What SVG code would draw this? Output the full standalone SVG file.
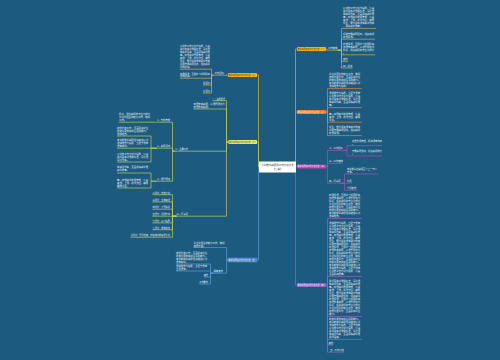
<svg xmlns="http://www.w3.org/2000/svg" width="500" height="360" viewBox="0 0 500 360">
<style>
text{font-family:"Noto Sans CJK SC","Noto Sans",sans-serif}
.t{font-size:2.4px;fill:#e6eef3}
.s{font-size:2.3px;fill:#e6eef3}
.e{text-anchor:end}
.nt{font-size:2px;text-anchor:middle}
.w{fill:#fff}
.d{fill:#3a2c00}
.c path{fill:none;stroke-width:.7;stroke-linejoin:round}
.cy{stroke:#c9b24a}.co{stroke:#e8843a}.cm{stroke:#b84ab0}.cp{stroke:#9068c8}.cg{stroke:#d9b23a}.cl{stroke:#b8cf62}.cb{stroke:#5b9ad8}
</style>
<rect width="500" height="360" fill="#1d5a7f"/>
<g id="connectors" class="c">
<path class="cy" d="M293,167 H295.5 V49 H297"/>
<path class="co" d="M293,167 H295.5 V112 H297"/>
<path class="cm" d="M293,166.5 H297"/>
<path class="cp" d="M293,167 H295.5 V285 H297"/>
<path class="cg" d="M261,167 H258.5 V75 H257"/>
<path class="cl" d="M261,167 H258.5 V142 H257"/>
<path class="cb" d="M261,167 H258.5 V260 H257"/>
<path class="cy" d="M326,49 H327 V50.2 H337.5"/>
<path class="cy" d="M337.5,50.2 H341.5 V28.4 H376 M337.5,50.2 H341.5 V39.2 H375 M337.5,50.2 H341.5 V54.8 H375 M337.5,50.2 H341.5 V61.4 H348 M337.5,50.2 H341.5 V68 H352.6"/>
<path class="co" d="M326,112 H327.5 V88.6 H362 M326,112 H327.5 V107.6 H362 M326,112 H327.5 V122.2 H362 M326,112 H327.5 V135.6 H362"/>
<path class="cm" d="M326,166.5 H327.5 V150.4 H343 M343,150.4 H347 V145.6 H382 M343,150.4 H347 V156 H382 M326,166.5 H327.5 V163.4 H343 M326,166.5 H327.5 V183.2 H341 M341,183.2 H344.5 V174 H378 M341,183.2 H352 M341,183.2 H344.5 V190.2 H357"/>
<path class="cp" d="M326,285 H327.5 V218.4 H362 M326,285 H327.5 V276.4 H362 M326,285 H327.5 V316.4 H362 M326,285 H327.5 V339.4 H362 M326,285 H327.5 V345 H333 M326,285 H327.5 V352.2 H343.8"/>
<path class="cg" d="M228,75.2 H213 M213,75.2 H211.5 V69.2 H180 M213,75.2 H211.5 V78.2 H180 M213,75.2 H211.5 V85 H203 M213,75.2 H211.5 V93 H203"/>
<path class="cl" d="M229,142 H226.5 V100.7 H212.4 M229,142 H226.5 V109 H193.5 M229,142 H226.5 V151.2 H174.8 M229,142 H226.5 V216.2 H176.5"/>
<path class="cl" d="M174.8,151.2 H172.5 V122.2 H157 M157,122.2 H119 M174.8,151.2 H172.5 V148.2 H157 M174.8,151.2 H172.5 V181.2 H157 M157,148.2 H151 V136 H117 M157,148.2 H117 M157,148.2 H151 V162 H117 M157,181.2 H151 V173 H117 M157,181.2 H151 V188 H117"/>
<path class="cl" d="M176.5,216.2 H172.5 V194.7 H152.4 M176.5,216.2 H172.5 V201.9 H152.4 M176.5,216.2 H172.5 V209.2 H152.4 M176.5,216.2 H152.4 M176.5,216.2 H172.5 V222.9 H152.4 M176.5,216.2 H172.5 V229.7 H152.4 M176.5,216.2 H172.5 V237.2 H130.4"/>
<path class="cb" d="M228,260 H226.5 V247.5 H193.5 M228,260 H226.5 V273.2 H213.4 M213.4,273.2 H210.5 V264 H176 M213.4,273.2 H210.5 V271 H176 M213.4,273.2 H210.5 V277 H203.6 M213.4,273.2 H210.5 V284 H199.2"/>
</g>
<g id="center"><rect x="259" y="161.5" width="37" height="11" rx=".6" fill="#fff"/>
<text x="277.5" y="165.8" font-size="2.5" text-anchor="middle" fill="#333">小学数学教研组工作计划范文</text>
<text x="277.5" y="169.7" font-size="2.5" text-anchor="middle" fill="#333">【七篇】</text></g>
<g id="n1"><rect x="297" y="47" width="29" height="4" rx=".4" fill="#f2b418"/><text class="nt d" x="311.5" y="49.75">数学教研组工作计划范文（一）</text></g>
<g id="n2"><rect x="297" y="110" width="29" height="4" rx=".4" fill="#ef7a2a"/><text class="nt w" x="311.5" y="112.75">数学教研组工作计划范文（二）</text></g>
<g id="n3"><rect x="297" y="164.5" width="29" height="4" rx=".4" fill="#c441b4"/><text class="nt w" x="311.5" y="167.25">数学教研组工作计划范文（三）</text></g>
<g id="n4"><rect x="297" y="283" width="29" height="4" rx=".4" fill="#8e62c8"/><text class="nt w" x="311.5" y="285.75">数学教研组工作计划范文（四）</text></g>
<g id="n5"><rect x="228" y="73" width="29" height="4" rx=".4" fill="#f2b418"/><text class="nt d" x="242.5" y="75.75">数学教研组工作计划范文（七）</text></g>
<g id="n6"><rect x="228.5" y="140" width="28.5" height="4" rx=".4" fill="#e4ee6c"/><text class="nt" fill="#333" x="242.75" y="142.75">数学教研组工作计划范文（六）</text></g>
<g id="n7"><rect x="228" y="258" width="29" height="4" rx=".4" fill="#3d7fc6" stroke="#9cc8f0" stroke-width=".3"/><text class="nt w" x="242.5" y="260.75">数学教研组工作计划范文（五）</text></g>
<g id="r1"><text class="s" x="328" y="49.4">工作措施</text></g>
<g id="r1a"><text class="t"><tspan x="343" y="9.2">以学校工作计划为指导，认真</tspan><tspan x="343" y="12.2">贯彻落实新课程标准，深化课</tspan><tspan x="343" y="15.2">堂教学改革，全面提高教学质</tspan><tspan x="343" y="18.2">量。加强教学常规管理，认真</tspan><tspan x="343" y="21.2">备课、上课、批改作业、辅导</tspan><tspan x="343" y="24.2">学生，努力提高课堂教学效率</tspan><tspan x="343" y="27.2">，提高教学质量。</tspan></text></g>
<g id="r1b"><text class="t"><tspan x="343" y="35.2">积极开展教研活动，组织教师</tspan><tspan x="343" y="38.2">听课评课。</tspan></text></g>
<g id="r1c"><text class="t"><tspan x="343" y="45.2">听课评课，互相学习共同提高</tspan><tspan x="343" y="48.1">加强校本教研，以课题研究为</tspan><tspan x="343" y="51">抓手，促进教师的专业化成长</tspan><tspan x="343" y="53.9">。</tspan></text></g>
<g id="r1d"><text class="s" x="343" y="60.4">其他</text></g>
<g id="r1e"><text class="s" x="343" y="67">四、总结</text></g>
<g id="r2a"><text class="t"><tspan x="329" y="75.2">关注学困生的转化工作，做好</tspan><tspan x="329" y="78.2">培优补差工作，全面提高学生</tspan><tspan x="329" y="81.2">的数学素养和综合运用能力。</tspan><tspan x="329" y="84.2">本学期数学教研组将继续以新</tspan><tspan x="329" y="87.2">课程理念为指导。</tspan></text></g>
<g id="r2b"><text class="t"><tspan x="329" y="94.2">课程理念为指导，立足于课堂</tspan><tspan x="329" y="97.2">以学校工作计划为指导，认真</tspan><tspan x="329" y="100.2">贯彻落实新课程标准，深化课</tspan><tspan x="329" y="103.2">堂教学改革，全面提高教学质</tspan><tspan x="329" y="106.2">量。</tspan></text></g>
<g id="r2c"><text class="t"><tspan x="329" y="115.2">量。加强教学常规管理，认真</tspan><tspan x="329" y="118.1">备课、上课、批改作业、辅导</tspan><tspan x="329" y="121">学生。</tspan></text></g>
<g id="r2d"><text class="t"><tspan x="329" y="128.4">学生，努力提高课堂教学效率</tspan><tspan x="329" y="131.3">积极开展教研活动，组织教师</tspan><tspan x="329" y="134.2">听课评课。</tspan></text></g>
<g id="r3a"><text class="s" x="329" y="149.4">二、工作目标</text></g>
<g id="r3a1"><text class="s"><tspan x="352" y="141.8">加强常规管理，提高课堂效率</tspan><tspan x="352" y="144.6">。</tspan></text></g>
<g id="r3a2"><text class="s"><tspan x="352" y="152.3">开展教研活动，促进教师成长</tspan><tspan x="352" y="155.1">。</tspan></text></g>
<g id="r3b"><text class="s" x="329" y="162.4">三、工作措施</text></g>
<g id="r3c"><text class="s" x="329" y="182.2">四、行事历</text></g>
<g id="r3c1"><text class="s"><tspan x="347" y="170.2">本学期每位教师至少上一节公</tspan><tspan x="347" y="173">开课。</tspan></text></g>
<g id="r3c2"><text class="s" x="347" y="182.2">九月</text></g>
<g id="r3c3"><text class="s" x="347" y="189.2">十月安排</text></g>
<g id="r4a"><text class="t"><tspan x="329" y="196.2">听课评课，互相学习共同提高</tspan><tspan x="329" y="199.2">加强校本教研，以课题研究为</tspan><tspan x="329" y="202.2">抓手，促进教师的专业化成长</tspan><tspan x="329" y="205.2">关注学困生的转化工作，做好</tspan><tspan x="329" y="208.2">培优补差工作，全面提高学生</tspan><tspan x="329" y="211.2">的数学素养和综合运用能力。</tspan><tspan x="329" y="214.2">本学期数学教研组将继续以新</tspan><tspan x="329" y="217.2">课程理念。</tspan></text></g>
<g id="r4b"><text class="t"><tspan x="329" y="224.2">课程理念为指导，立足于课堂</tspan><tspan x="329" y="227.2">以学校工作计划为指导，认真</tspan><tspan x="329" y="230.2">贯彻落实新课程标准，深化课</tspan><tspan x="329" y="233.2">堂教学改革，全面提高教学质</tspan><tspan x="329" y="236.2">量。加强教学常规管理，认真</tspan><tspan x="329" y="239.2">备课、上课、批改作业、辅导</tspan><tspan x="329" y="242.2">学生，努力提高课堂教学效率</tspan><tspan x="329" y="245.2">积极开展教研活动，组织教师</tspan><tspan x="329" y="248.2">听课评课，互相学习共同提高</tspan><tspan x="329" y="251.2">加强校本教研，以课题研究为</tspan><tspan x="329" y="254.2">抓手，促进教师的专业化成长</tspan><tspan x="329" y="257.2">关注学困生的转化工作，做好</tspan><tspan x="329" y="260.2">培优补差工作，全面提高学生</tspan><tspan x="329" y="263.2">的数学素养和综合运用能力。</tspan><tspan x="329" y="266.2">本学期数学教研组将继续以新</tspan><tspan x="329" y="269.2">课程理念为指导，立足于课堂</tspan><tspan x="329" y="272.2">以学校工作计划为指导，认真</tspan><tspan x="329" y="275.2">全面提高质量。</tspan></text></g>
<g id="r4c"><text class="t"><tspan x="329" y="282.2">贯彻落实新课程标准，深化课</tspan><tspan x="329" y="285.2">堂教学改革，全面提高教学质</tspan><tspan x="329" y="288.2">量。加强教学常规管理，认真</tspan><tspan x="329" y="291.2">备课、上课、批改作业、辅导</tspan><tspan x="329" y="294.2">学生，努力提高课堂教学效率</tspan><tspan x="329" y="297.2">积极开展教研活动，组织教师</tspan><tspan x="329" y="300.2">听课评课，互相学习共同提高</tspan><tspan x="329" y="303.2">加强校本教研，以课题研究为</tspan><tspan x="329" y="306.2">抓手，促进教师的专业化成长</tspan><tspan x="329" y="309.2">关注学困生的转化工作，做好</tspan><tspan x="329" y="312.2">培优补差工作，全面提高学生</tspan><tspan x="329" y="315.2">能力。</tspan></text></g>
<g id="r4d"><text class="t"><tspan x="329" y="320.2">的数学素养和综合运用能力。</tspan><tspan x="329" y="323.2">本学期数学教研组将继续以新</tspan><tspan x="329" y="326.2">课程理念为指导，立足于课堂</tspan><tspan x="329" y="329.2">以学校工作计划为指导，认真</tspan><tspan x="329" y="332.2">贯彻落实新课程标准，深化课</tspan><tspan x="329" y="335.2">堂教学改革，全面提高教学质</tspan><tspan x="329" y="338.2">贯彻落实。</tspan></text></g>
<g id="r4e"><text class="s" x="328.5" y="344">其他</text></g>
<g id="r4f"><text class="s" x="330" y="351.2">五、工作小结</text></g>
<g id="l5"><text class="t e" x="224" y="74">工作目标</text></g>
<g id="l5a"><text class="s"><tspan x="180" y="47.2">以学校工作计划为指导，认真</tspan><tspan x="180" y="50.2">贯彻落实新课程标准，深化课</tspan><tspan x="180" y="53.2">堂教学改革，全面提高教学质</tspan><tspan x="180" y="56.2">量。加强教学常规管理，认真</tspan><tspan x="180" y="59.2">备课、上课、批改作业、辅导</tspan><tspan x="180" y="62.2">学生，努力提高课堂教学效率</tspan><tspan x="180" y="65.2">积极开展教研活动，组织教师</tspan><tspan x="180" y="68.2">共同提高。</tspan></text></g>
<g id="l5b"><text class="s"><tspan x="180" y="74.6">听课评课，互相学习共同提高</tspan><tspan x="180" y="77.4">共同提高。</tspan></text></g>
<g id="l5c"><text class="s e" x="210" y="84">总目标</text></g>
<g id="l5d"><text class="s e" x="210" y="92">分目标</text></g>
<g id="l6a"><text class="e" font-size="2.1" fill="#e6eef3" x="225" y="99.5">一、指导思想</text></g>
<g id="l6b"><text class="t"><tspan x="193.5" y="105.2">加强校本教研，以课题研究为</tspan><tspan x="193.5" y="108">加强校本教研。</tspan></text></g>
<g id="l6c"><text class="e" font-size="2.2" fill="#e6eef3" x="188" y="150">二、主要工作</text></g>
<g id="l6c1"><text class="s e" x="170" y="121">1、常规管理</text></g>
<g id="l6c1a"><text class="t"><tspan x="119" y="115.3">抓手，促进教师的专业化成长</tspan><tspan x="119" y="118.2">关注学困生的转化工作，做好</tspan><tspan x="119" y="121.1">工作。</tspan></text></g>
<g id="l6c2"><text class="s e" x="170" y="147">2、教研活动</text></g>
<g id="l6c2a"><text class="t"><tspan x="117" y="129.1">培优补差工作，全面提高学生</tspan><tspan x="117" y="132">的数学素养和综合运用能力。</tspan><tspan x="117" y="134.9">课程理念。</tspan></text></g>
<g id="l6c2b"><text class="t"><tspan x="117" y="141.1">本学期数学教研组将继续以新</tspan><tspan x="117" y="144">课程理念为指导，立足于课堂</tspan><tspan x="117" y="146.9">课堂教学。</tspan></text></g>
<g id="l6c2c"><text class="t"><tspan x="117" y="155.1">以学校工作计划为指导，认真</tspan><tspan x="117" y="158">贯彻落实新课程标准，深化课</tspan><tspan x="117" y="160.9">深化改革。</tspan></text></g>
<g id="l6c3"><text class="s e" x="170" y="180">3、课题研究</text></g>
<g id="l6c3a"><text class="t"><tspan x="117" y="168.1">堂教学改革，全面提高教学质</tspan><tspan x="117" y="171">教学质量。</tspan></text></g>
<g id="l6c3b"><text class="t"><tspan x="117" y="181.1">量。加强教学常规管理，认真</tspan><tspan x="117" y="184">备课、上课、批改作业、辅导</tspan><tspan x="117" y="186.9">辅导学生。</tspan></text></g>
<g id="l6d"><text class="s e" x="188" y="215">三、行事历</text></g>
<g id="l6d1"><text class="e" font-size="2.2" fill="#e6eef3" x="170" y="193.5">二月份：制定计划</text></g>
<g id="l6d2"><text class="e" font-size="2.2" fill="#e6eef3" x="170" y="200.7">三月份：集体备课</text></g>
<g id="l6d3"><text class="e" font-size="2.2" fill="#e6eef3" x="170" y="208">四月份：公开教学</text></g>
<g id="l6d4"><text class="e" font-size="2.2" fill="#e6eef3" x="170" y="215">五月份：评课交流</text></g>
<g id="l6d5"><text class="e" font-size="2.2" fill="#e6eef3" x="170" y="221.7">六月份：复习指导</text></g>
<g id="l6d6"><text class="e" font-size="2.2" fill="#e6eef3" x="170" y="228.5">七月份：期末总结</text></g>
<g id="l6d7"><text class="e" font-size="2.2" fill="#e6eef3" x="170" y="236">九月份：开学准备，制定本学期教研计划</text></g>
<g id="l7a"><text class="t"><tspan x="193.5" y="243.6">关注学困生的转化工作，做好</tspan><tspan x="193.5" y="246.5">培优补差。</tspan></text></g>
<g id="l7b"><text class="t e" x="223" y="272">具体安排</text></g>
<g id="l7b1"><text class="t"><tspan x="176" y="254.2">培优补差工作，全面提高学生</tspan><tspan x="176" y="257.1">的数学素养和综合运用能力。</tspan><tspan x="176" y="260">本学期数学教研组将继续以新</tspan><tspan x="176" y="262.9">课堂教学。</tspan></text></g>
<g id="l7b2"><text class="t"><tspan x="176" y="267.2">课程理念为指导，立足于课堂</tspan><tspan x="176" y="270.1">立足课堂。</tspan></text></g>
<g id="l7b3"><text class="e" font-size="2.2" fill="#e6eef3" x="208" y="276">其他</text></g>
<g id="l7b4"><text class="e" font-size="2.2" fill="#e6eef3" x="208" y="283">工作要求</text></g>
</svg>
